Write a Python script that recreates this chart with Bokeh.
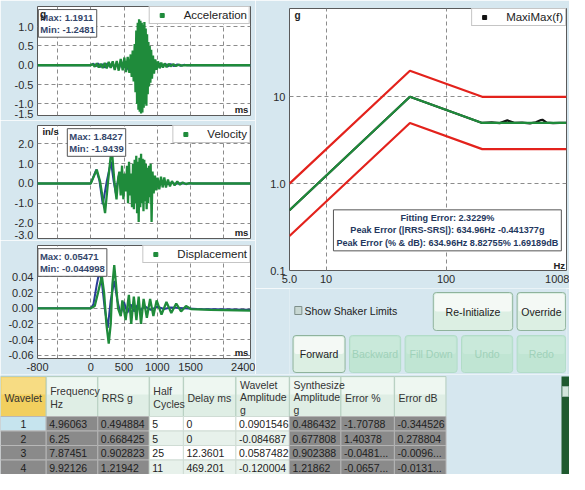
import math
from bokeh.plotting import figure
from bokeh.models import Range1d, FixedTicker, Label, Legend, LegendItem, ColumnDataSource
from bokeh.layouts import column, row
from bokeh.embed import file_html
from bokeh.resources import INLINE
from bokeh.core.properties import value

# ---------------- data ----------------
time_ticks = [-800, -500, 0, 500, 1000, 1500, 2000, 2400]
time_tick_labels = ["-800", "", "0", "500", "1000", "1500", "", "2400"]

acc_green = [(-800, 0), (0, 0), (30, 0.03), (60, -0.04), (90, 0.05), (120, -0.06), (150, 0.04), (180, -0.07),
             (210, 0.06), (240, -0.08), (270, 0.09), (300, -0.07), (330, 0.1), (360, -0.12), (390, 0.11),
             (420, -0.14), (450, 0.16), (480, -0.13), (505, 0.2), (530, -0.18), (555, 0.22), (580, -0.2),
             (600, 0.28), (615, -0.3), (630, 0.38), (645, -0.42), (660, 0.55), (672, -0.7), (684, 0.9),
             (696, -1.0), (706, 1.1), (716, -1.15), (726, 1.19), (736, -1.2), (746, 1.15), (756, -1.25),
             (766, 1.1), (776, -1.22), (786, 1.05), (796, -1.1), (806, 1.12), (816, -1.0), (826, 0.95),
             (836, -1.05), (846, 0.8), (856, -0.75), (866, 0.6), (876, -0.55), (886, 0.5), (896, -0.45),
             (908, 0.4), (920, -0.35), (935, 0.25), (950, -0.22), (970, 0.15), (990, -0.12), (1010, 0.1),
             (1035, -0.08), (1060, 0.07), (1085, -0.06), (1110, 0.05), (1140, -0.05), (1170, 0.04),
             (1200, -0.03), (1240, 0.03), (1280, -0.02), (1320, 0.015), (1370, -0.01), (1420, 0.005),
             (1460, 0), (2400, 0)]
acc_blue = [(-800, 0), (0, 0), (40, 0.04), (75, -0.03), (110, 0.05), (145, -0.05), (180, 0.03), (215, -0.06),
            (250, 0.05), (285, -0.04), (320, 0.06), (355, -0.07), (390, 0.06), (425, -0.08), (460, 0.09),
            (495, -0.07), (530, 0.1), (565, -0.12), (600, 0.12), (630, -0.2), (660, 0.3), (690, -0.5),
            (720, 0.7), (750, -0.8), (780, 0.75), (810, -0.7), (840, 0.5), (870, -0.3), (900, 0.2),
            (930, -0.12), (960, 0.06), (1000, -0.05), (1040, 0.05), (1080, -0.04), (1120, 0.04),
            (1160, -0.03), (1200, 0.03), (1250, -0.02), (1300, 0.02), (1350, -0.015), (1400, 0.01),
            (1450, 0), (2400, 0)]
vel_green = [(-800, 0), (0, 0), (90, 0.7), (140, 0.1), (215, -1.5), (260, 0.1), (314, 1.84), (355, 0.1),
             (387, -0.8), (410, 0.2), (430, 0.6), (450, -0.6), (470, 0.9), (490, -0.8), (510, 0.5),
             (530, -0.4), (545, 0.9), (560, -1.0), (575, 1.1), (590, -0.6), (605, 0.5), (620, -1.2),
             (635, 1.0), (648, -1.3), (660, 1.2), (672, -1.0), (684, 1.4), (696, -1.5), (708, 1.1),
             (720, -1.94), (732, 1.3), (744, -1.2), (756, 1.5), (768, -1.0), (780, 1.25), (792, -1.4),
             (804, 1.2), (816, -0.9), (828, 1.0), (840, -1.3), (852, 0.8), (864, -1.0), (876, 0.9),
             (888, -0.7), (900, 1.0), (914, -1.95), (928, 0.6), (945, -0.5), (965, 0.4), (985, -0.35),
             (1005, 0.3), (1030, -0.3), (1055, 0.35), (1080, -0.2), (1105, 0.3), (1130, -0.2), (1160, 0.2),
             (1190, -0.15), (1220, 0.12), (1260, -0.1), (1300, 0.1), (1340, -0.06), (1380, 0.05),
             (1430, -0.03), (1480, 0.02), (1530, 0), (2400, 0)]
vel_blue = [(-800, 0), (0, 0), (83, 0.7), (130, 0.15), (181, -1.05), (240, 0.1), (304, 1.1), (345, 0.1),
            (377, -0.5), (420, 0.4), (460, -0.45), (500, 0.35), (540, -0.3), (580, 0.25), (620, -0.25),
            (660, 0.2), (700, -0.2), (740, 0.15), (780, -0.15), (820, 0.12), (860, -0.1), (900, 0.08),
            (950, -0.07), (1000, 0.06), (1050, -0.05), (1100, 0.04), (1160, -0.03), (1220, 0.03),
            (1280, -0.02), (1350, 0.015), (1420, -0.01), (1500, 0), (2400, 0)]
disp_green = [(-800, 0), (0, 0), (60, 0.003), (110, 0.02), (167, 0.041), (200, 0.02), (235, -0.02),
              (270, -0.045), (300, -0.02), (325, 0.03), (353, 0.055), (380, 0.03), (410, 0.0),
              (451, -0.01), (475, 0.01), (524, -0.015), (573, 0.017), (608, -0.02), (647, 0.015),
              (686, -0.015), (720, 0.015), (755, -0.02), (794, 0.012), (843, -0.012), (892, 0.012),
              (941, -0.01), (990, 0.01), (1063, -0.008), (1137, 0.008), (1210, -0.006), (1284, 0.006),
              (1357, -0.004), (1431, 0.003), (1504, -0.001), (1800, -0.002), (2400, -0.003)]
disp_blue = [(-800, 0), (0, 0), (40, 0.005), (90, 0.03), (132, 0.048), (170, 0.03), (210, 0.0),
             (255, -0.025), (300, 0.01), (353, 0.035), (400, 0.01), (450, -0.008), (500, 0.008),
             (550, -0.006), (600, 0.005), (650, -0.004), (700, 0.004), (750, -0.003), (800, 0.003),
             (900, -0.002), (1000, 0.002), (1100, -0.001), (1200, 0.001), (1400, 0), (1600, -0.001),
             (2400, -0.002)]

acc_ticks = [-1.25, -1.0, -0.5, 0.0, 0.5, 1.0]
acc_tick_labels = ["-1.5", "-1.0", "-0.5", "0.0", "0.5", "1.0"]
vel_ticks = [-2.6, -2.0, -1.0, 0.0, 1.0, 2.0]
vel_tick_labels = ["-3.0", "-2.0", "-1.0", "0.0", "1.0", "2.0"]
disp_ticks = [-0.06, -0.04, -0.02, 0.0, 0.02, 0.04]
disp_tick_labels = ["-0.06", "-0.04", "-0.02", "0.00", "0.02", "0.04"]

acc_stats = ("1.1911", "-1.2481")
vel_stats = ("1.8427", "-1.9439")
disp_stats = ("0.05471", "-0.044998")

srs_freq = [4.96063, 50, 200, 1008]
rrs_g = [0.494884, 10.0, 5.0, 5.0]
upper_g = [1.0, 20.0, 10.0, 10.0]
lower_g = [0.25, 5.0, 2.5, 2.5]
maximax_freq = [4.96063, 50, 200, 240, 280, 324, 370, 430, 500, 560, 617, 635, 690, 780, 880, 1008]
maximax_g = [0.494, 10.0, 5.0, 5.08, 4.98, 5.35, 5.02, 5.05, 4.95, 5.1, 5.4, 5.44, 5.05, 4.97, 5.02, 5.0]
srs_xticks = [4.96063, 10, 100, 1008]
srs_xtick_labels = ["5.0", "10", "100", "1008"]
srs_yticks = [0.1, 1, 10]
srs_ytick_labels = ["0.1", "1.0", "10"]
srs_info = ["Fitting Error: 2.3229%",
            "Peak Error (|RRS-SRS|): 634.96Hz -0.441377g",
            "Peak Error (% & dB): 634.96Hz 8.82755% 1.69189dB"]

tbl_headers = ["Wavelet", "Frequency\nHz", "RRS g", "Half\nCycles", "Delay ms", "Wavelet\nAmplitude\ng",
               "Synthesize\nAmplitude\ng", "Error %", "Error dB"]
wavelet_id = ["1", "2", "3", "4"]
freq_hz = ["4.96063", "6.25", "7.87451", "9.92126"]
rrs_val = ["0.494884", "0.668425", "0.902823", "1.21942"]
half_cycles = ["5", "5", "25", "11"]
delay_ms = ["0", "0", "12.3601", "469.201"]
wavelet_amp = ["0.0901546", "-0.084687", "0.0587482", "-0.120004"]
synth_amp = ["0.486432", "0.677808", "0.902388", "1.21862"]
error_pct = ["-1.70788", "1.40378", "-0.0481...", "-0.0657..."]
error_db = ["-0.344526", "0.278804", "-0.0096...", "-0.0131..."]

# ---------------- style ----------------
BG = "#d6e7ef"
GREEN = "#1f8b3b"
BLUE = "#2a3d98"
RED = "#e3221c"
GRID = "#8c8c8c"
FRAME = "#5a5a5a"
FONT = "Liberation Sans"
LEFT_W, RIGHT_W = 255, 314
T0, T1 = -800, 2400


def style_axes(p, size="11px"):
    for ax in (p.xaxis, p.yaxis):
        ax.axis_line_color = None
        ax.major_tick_line_color = None
        ax.minor_tick_line_color = None
        ax.major_tick_out = 0
        ax.major_tick_in = 0
        ax.minor_tick_out = 0
        ax.major_label_text_font = FONT
        ax.major_label_text_font_size = size
        ax.major_label_text_color = "#2b2b2b"
        ax.major_label_standoff = 4
    for g in (p.xgrid, p.ygrid):
        g.grid_line_color = GRID
        g.grid_line_dash = "4 3"
        g.grid_line_width = 1


def add_legend(p, name, color, hidden_x, hidden_y):
    # one point placed outside the visible range, only so that the legend has a glyph
    r = p.scatter(x=[hidden_x], y=[hidden_y], marker="square", size=6, color=color)
    leg = Legend(items=[LegendItem(label=name, renderers=[r])], location="top_right", margin=0,
                 padding=2, spacing=0, glyph_width=20, glyph_height=10, label_height=10,
                 label_standoff=12, label_text_font=FONT, label_text_font_size="11.5px",
                 label_text_color="#222222", border_line_color="#8c8c8c",
                 background_fill_color="white", background_fill_alpha=1.0)
    p.add_layout(leg)


def time_panel(h, top, bottom, y_lo, y_hi, ticks, labels, grid_ticks, show_x, green, blue,
               name, stats, stats_fx, unit, ms_fy):
    p = figure(width=LEFT_W, height=h, x_range=Range1d(T0, T1), y_range=Range1d(y_lo, y_hi),
               output_backend="svg", toolbar_location=None)
    p.min_border_left = 37
    p.min_border_right = 5
    p.min_border_top = top
    p.min_border_bottom = bottom
    p.border_fill_color = BG
    p.background_fill_color = "white"
    p.outline_line_color = FRAME
    p.outline_line_width = 1
    style_axes(p)
    p.yaxis.ticker = FixedTicker(ticks=ticks)
    p.yaxis.major_label_overrides = dict(zip(ticks, labels))
    p.xaxis.ticker = FixedTicker(ticks=time_ticks)
    p.xaxis.major_label_overrides = dict(zip(time_ticks, time_tick_labels))
    p.xaxis.visible = show_x
    p.xgrid.ticker = FixedTicker(ticks=time_ticks[1:-1])
    p.ygrid.ticker = FixedTicker(ticks=grid_ticks)

    bx, by = zip(*blue)
    gx, gy = zip(*green)
    p.line(list(bx), list(by), color=BLUE, line_width=2)
    p.line(list(gx), list(gy), color=GREEN, line_width=2.3)
    add_legend(p, name, GREEN, T0 - 5000, 0)

    span = y_hi - y_lo
    if unit:
        p.add_layout(Label(x=T0 + unit[1] * (T1 - T0), y=y_hi - unit[2] * span, text=unit[0],
                           text_font=FONT, text_font_style="bold", text_font_size="9.5px",
                           text_color="#222222", text_baseline="middle", text_align="left"))
    p.add_layout(Label(x=T0 + stats_fx * (T1 - T0), y=y_hi - 0.028 * span,
                       text=f"Max: {stats[0]}\nMin: {stats[1]}", text_align="left",
                       text_baseline="top", text_font=FONT, text_font_style="bold",
                       text_font_size="9.5px", text_color="#34466b", background_fill_color="white",
                       border_line_color="#555555", padding=2, text_line_height=1.15))
    if unit and unit[0] == "g":
        p.add_layout(Label(x=T0 + 0.012 * (T1 - T0), y=y_hi - 0.075 * span, text="g",
                           text_font=FONT, text_font_style="bold", text_font_size="10px",
                           text_color="#222222", text_baseline="middle", text_align="left"))
    p.add_layout(Label(x=T0 + 0.99 * (T1 - T0), y=y_lo + ms_fy * span, text="ms", text_font=FONT,
                       text_font_style="bold", text_font_size="9.5px", text_color="#222222",
                       text_baseline="middle", text_align="right"))
    return p


acc = time_panel(120, 6, 5, -1.3, 1.52, acc_ticks, acc_tick_labels, acc_ticks[1:], False,
                 acc_green, acc_blue, "Acceleration", acc_stats, 0.004, ("g", 0.012, 0.07), 0.055)
vel = time_panel(120, 5, 2, -2.78, 2.93, vel_ticks, vel_tick_labels, vel_ticks[1:], False,
                 vel_green, vel_blue, "Velocity", vel_stats, 0.14, ("in/s", 0.023, 0.055), 0.055)
disp = time_panel(134, 5, 16, -0.064, 0.08, disp_ticks, disp_tick_labels, disp_ticks, True,
                  disp_green, disp_blue, "Displacement", disp_stats, 0.002, None, 0.055)

# ---------------- SRS ----------------
F0, F1 = 4.96063, 1008
G0, G1 = 0.1, 104
srs = figure(width=RIGHT_W, height=288, x_axis_type="log", y_axis_type="log",
             x_range=Range1d(F0, F1), y_range=Range1d(G0, G1), output_backend="svg",
             toolbar_location=None)
srs.min_border_left = 34
srs.min_border_right = 3
srs.min_border_top = 8
srs.min_border_bottom = 18
srs.border_fill_color = BG
srs.background_fill_color = "white"
srs.outline_line_color = FRAME
style_axes(srs)
srs.xaxis.ticker = FixedTicker(ticks=srs_xticks)
srs.xaxis.major_label_overrides = dict(zip(srs_xticks, srs_xtick_labels))
srs.yaxis.ticker = FixedTicker(ticks=srs_yticks)
srs.yaxis.major_label_overrides = dict(zip(srs_yticks, srs_ytick_labels))
srs.xgrid.ticker = FixedTicker(ticks=[10, 100])
srs.ygrid.ticker = FixedTicker(ticks=[1, 10])

srs.line(srs_freq, upper_g, color=RED, line_width=2.2)
srs.line(srs_freq, lower_g, color=RED, line_width=2.2)
srs.line(maximax_freq, maximax_g, color="#111111", line_width=2.2)
srs.line(srs_freq, rrs_g, color=GREEN, line_width=2.2)
add_legend(srs, "MaxiMax(f)", "#111111", 1e-3, 1.0)


def lx(fr):
    return 10 ** (math.log10(F0) + fr * (math.log10(F1) - math.log10(F0)))


def ly(fr):
    return 10 ** (math.log10(G0) + fr * (math.log10(G1) - math.log10(G0)))


srs.add_layout(Label(x=lx(0.57), y=ly(0.075), text="\n".join(srs_info), text_align="center",
                     text_baseline="bottom", text_font=FONT, text_font_style="bold",
                     text_font_size="9.1px", text_color="#24375e", background_fill_color="white",
                     border_line_color="#555555", padding=3, text_line_height=1.25))
srs.add_layout(Label(x=lx(0.018), y=ly(0.975), text="g", text_font=FONT, text_font_style="bold",
                     text_font_size="10px", text_color="#222222", text_baseline="middle"))
srs.add_layout(Label(x=lx(0.995), y=ly(0.02), text="Hz", text_font=FONT, text_font_style="bold",
                     text_font_size="9.5px", text_color="#222222", text_baseline="middle",
                     text_align="right"))

# ---------------- controls ----------------
CW, CH = RIGHT_W, 86
ctrl = figure(width=CW, height=CH, x_range=Range1d(0, CW), y_range=Range1d(CH, 0),
              output_backend="svg", toolbar_location=None)
ctrl.min_border = 0
ctrl.axis.visible = False
ctrl.grid.visible = False
ctrl.outline_line_color = None
ctrl.background_fill_color = BG
ctrl.border_fill_color = BG

button_labels = ["Re-Initialize", "Override", "Forward", "Backward", "Fill Down", "Undo", "Redo"]
button_enabled = [True, True, True, False, False, False, False]
btn_left = [163, 258, 4, 68, 131, 195, 258]
btn_right = [253, 313, 63, 126, 190, 253, 313]
btn_top = [4, 4, 47, 47, 47, 47, 47]
btn_bottom = [42, 42, 84, 84, 84, 84, 84]
bsrc = ColumnDataSource(dict(
    left=btn_left, right=btn_right, top=btn_top, bottom=btn_bottom,
    mid=[(t + b) / 2 for t, b in zip(btn_top, btn_bottom)],
    cx=[(l + r) / 2 for l, r in zip(btn_left, btn_right)],
    fill=["#dcefe3" if e else "#c0e5d3" for e in button_enabled],
    hi=["#f4f9f5" if e else "#c9e9da" for e in button_enabled],
    line=["#8fb39c" if e else "#b2dcc8" for e in button_enabled],
    tcol=["#222222" if e else "#9fd1b9" for e in button_enabled],
    label=button_labels))
ctrl.quad(left="left", right="right", top="top", bottom="bottom", source=bsrc, fill_color="fill",
          line_color="line", line_width=1, border_radius=3)
hsrc = ColumnDataSource(dict(left=[l + 1.5 for l in btn_left], right=[r - 1.5 for r in btn_right],
                             top=[t + 1.5 for t in btn_top],
                             bottom=[(t + b) / 2 for t, b in zip(btn_top, btn_bottom)],
                             hi=bsrc.data["hi"]))
ctrl.quad(left="left", right="right", top="top", bottom="bottom", source=hsrc, fill_color="hi",
          line_color=None, border_radius=2)
ctrl.text(x="cx", y="mid", text="label", source=bsrc, text_color="tcol", text_align="center",
          text_baseline="middle", text_font=value(FONT), text_font_size="10.5px")
ctrl.quad(left=[6], right=[14], top=[18], bottom=[26], fill_color="#c8d8d3", line_color="#7d8f8a")
ctrl.text(x=[17], y=[22.5], text=["Show Shaker Limits"], text_color="#222222", text_align="left",
          text_baseline="middle", text_font=value(FONT), text_font_size="10.5px")

# ---------------- table ----------------
TW, TH = 569, 100
tbl = figure(width=TW, height=TH, x_range=Range1d(0, TW), y_range=Range1d(TH, 0),
             output_backend="svg", toolbar_location=None)
tbl.min_border = 0
tbl.axis.visible = False
tbl.grid.visible = False
tbl.outline_line_color = None
tbl.background_fill_color = BG
tbl.border_fill_color = BG

col_edges = [0, 45.7, 97.3, 148.8, 182.9, 235.4, 288.9, 340.4, 393.9, 445.5]
col_kind = ["id", "gray", "gray", "white", "white", "white", "gray", "gray", "gray"]
HEAD_T, HEAD_B, ROW_H = 2, 42, 14.5
table_cols = [wavelet_id, freq_hz, rrs_val, half_cycles, delay_ms, wavelet_amp, synth_amp,
              error_pct, error_db]

# header
hl, hr = col_edges[:-1], col_edges[1:]
tbl.quad(left=hl, right=hr, top=[HEAD_T] * 9, bottom=[HEAD_B] * 9,
         fill_color=["#f2cf5e"] + ["#dfeee5"] * 8, line_color="#b7cfc1")
tbl.quad(left=[l + 1 for l in hl], right=[r - 1 for r in hr], top=[HEAD_T + 1] * 9,
         bottom=[HEAD_T + 18] * 9, fill_color=["#f7dc83"] + ["#eef7f1"] * 8, line_color=None)
tbl.text(x=[l + 4 for l in hl], y=[23] * 9, text=tbl_headers, text_color="#333333",
         text_align="left", text_baseline="middle", text_font=value(FONT), text_font_size="10.5px",
         text_line_height=1.05)

# cells
cl, cr, ct, cb, cf, lc, tx, ty, tt, ta, tc = [], [], [], [], [], [], [], [], [], [], []
for ci, vals in enumerate(table_cols):
    for ri, v in enumerate(vals):
        top = HEAD_B + ri * ROW_H
        kind = col_kind[ci]
        if kind == "id":
            fill = "#c6e4ee" if ri == 0 else "#8a8a8a"
            line = "#b8b8b8"
        elif kind == "gray":
            fill = "#8a8a8a"
            line = "#b4b4b4"
        else:
            fill = "#ffffff" if ri % 2 == 0 else "#e7f1eb"
            line = "#cfdcd4"
        cl.append(col_edges[ci]); cr.append(col_edges[ci + 1]); ct.append(top)
        cb.append(top + ROW_H); cf.append(fill); lc.append(line)
        if kind == "id":
            tx.append((col_edges[ci] + col_edges[ci + 1]) / 2); ta.append("center")
        else:
            tx.append(col_edges[ci] + 3); ta.append("left")
        ty.append(top + ROW_H / 2 + 0.5); tt.append(v)
        tc.append("#1e1e1e" if kind != "white" else "#222222")
tbl.quad(left=cl, right=cr, top=ct, bottom=cb, fill_color=cf, line_color=lc)
tbl.text(x=tx, y=ty, text=tt, text_align=ta, text_color=tc, text_baseline="middle",
         text_font=value(FONT), text_font_size="10.5px")

# scrollbar strip
tbl.quad(left=[561], right=[569], top=[HEAD_T], bottom=[TH], fill_color="#1f5a2f", line_color=None)
tbl.quad(left=[562], right=[568], top=[12], bottom=[22], fill_color="#d3e6dc", line_color="#9ab8a8")

layout = column(row(column(acc, vel, disp, spacing=0), column(srs, ctrl, spacing=0), spacing=0),
                tbl, spacing=0)

open("out.html", "w").write(file_html(layout, INLINE))
